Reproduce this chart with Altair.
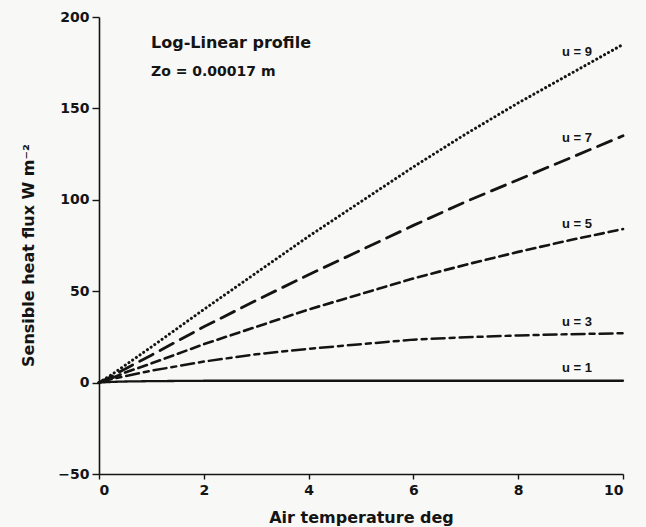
import altair as alt
import pandas as pd

# Air temperature (deg)
x_vals = [0, 0.25, 0.5, 1, 2, 3, 4, 5, 6, 7, 8, 9, 10]

# Sensible heat flux (W m^-2) for each wind speed
u9 = [0, 4.5, 9.5, 19.5, 40, 60, 80, 99, 118, 136, 153, 169, 185]
u7 = [0, 3.5, 7.5, 15, 30.5, 45, 59, 72.5, 86, 99, 111, 123, 135]
u5 = [0, 2.5, 5.5, 10.5, 21, 30.5, 40, 48.5, 57, 64.5, 71.5, 78, 84]
u3 = [0, 2, 3.5, 6.5, 11.5, 15.5, 18.5, 21, 23.5, 24.8, 25.8, 26.5, 27]
u1 = [0, 0.4, 0.6, 0.8, 1, 1, 1, 1, 1, 1, 1, 1, 1]

series_names = ["u = 9", "u = 7", "u = 5", "u = 3", "u = 1"]
series_values = [u9, u7, u5, u3, u1]

# label anchor positions (data units)
label_x = [9.12, 9.12, 9.12, 9.12, 9.12]
label_y = [181, 134, 87, 33, 8]

rows = []
for name, vals in zip(series_names, series_values):
    for xv, yv in zip(x_vals, vals):
        rows.append({"t": xv, "flux": yv, "series": name})
df = pd.DataFrame(rows)

labels_df = pd.DataFrame({"t": label_x, "flux": label_y, "text": series_names})

FONT = "DejaVu Sans"
INK = "#141414"

xscale = alt.Scale(domain=[0, 10], nice=False)
yscale = alt.Scale(domain=[-50, 200], nice=False)

lines = alt.Chart(df).mark_line(strokeCap="round", color=INK).encode(
    x=alt.X("t:Q", scale=xscale,
            axis=alt.Axis(values=[0, 2, 4, 6, 8, 10], title="Air temperature deg",
                          titleY=43, titleBaseline="middle")),
    y=alt.Y("flux:Q", scale=yscale,
            axis=alt.Axis(values=[-50, 0, 50, 100, 150, 200], title="Sensible heat flux W m⁻²",
                          titleX=-71, titleY=238, titleBaseline="middle")),
    strokeDash=alt.StrokeDash(
        "series:N",
        scale=alt.Scale(domain=series_names,
                        range=[[0.1, 4.4], [15, 8], [9, 5], [13, 5, 5, 5], [1, 0]]),
        legend=None,
    ),
    strokeWidth=alt.StrokeWidth(
        "series:N",
        scale=alt.Scale(domain=series_names, range=[3, 2.3, 2.3, 2.3, 2.3]),
        legend=None,
    ),
    detail="series:N",
)

labels = alt.Chart(labels_df).mark_text(
    font="Liberation Sans", fontWeight="bold", fontSize=13, color=INK, align="center", baseline="middle"
).encode(x=alt.X("t:Q", scale=xscale), y=alt.Y("flux:Q", scale=yscale), text="text:N")

title1 = alt.Chart(pd.DataFrame({"text": ["Log-Linear profile"]})).mark_text(
    font=FONT, fontWeight="bold", fontSize=16, color=INK, align="left", baseline="middle"
).encode(x=alt.value(52), y=alt.value(26), text="text:N")

title2 = alt.Chart(pd.DataFrame({"text": ["Zo = 0.00017 m"]})).mark_text(
    font=FONT, fontWeight="bold", fontSize=14, color=INK, align="left", baseline="middle"
).encode(x=alt.value(52), y=alt.value(55), text="text:N")

chart = alt.layer(lines, labels, title1, title2).properties(
    width=524, height=457,
    autosize=alt.AutoSizeParams(type="none"),
    padding={"left": 99, "top": 17, "right": 23, "bottom": 53},
    background="#f8f8f6",
).configure_view(stroke=None).configure_axis(
    grid=False,
    domainColor=INK, domainWidth=1.6,
    tickColor=INK, tickWidth=1.4, tickSize=7,
    labelFont=FONT, labelFontWeight="bold", labelFontSize=14, labelColor=INK, labelPadding=3,
    titleFont=FONT, titleFontWeight="bold", titleFontSize=16, titleColor=INK,
).configure_axisX(tickSize=5, labelPadding=4)

chart.save("out.html", embed_options={"renderer": "svg", "actions": False})
